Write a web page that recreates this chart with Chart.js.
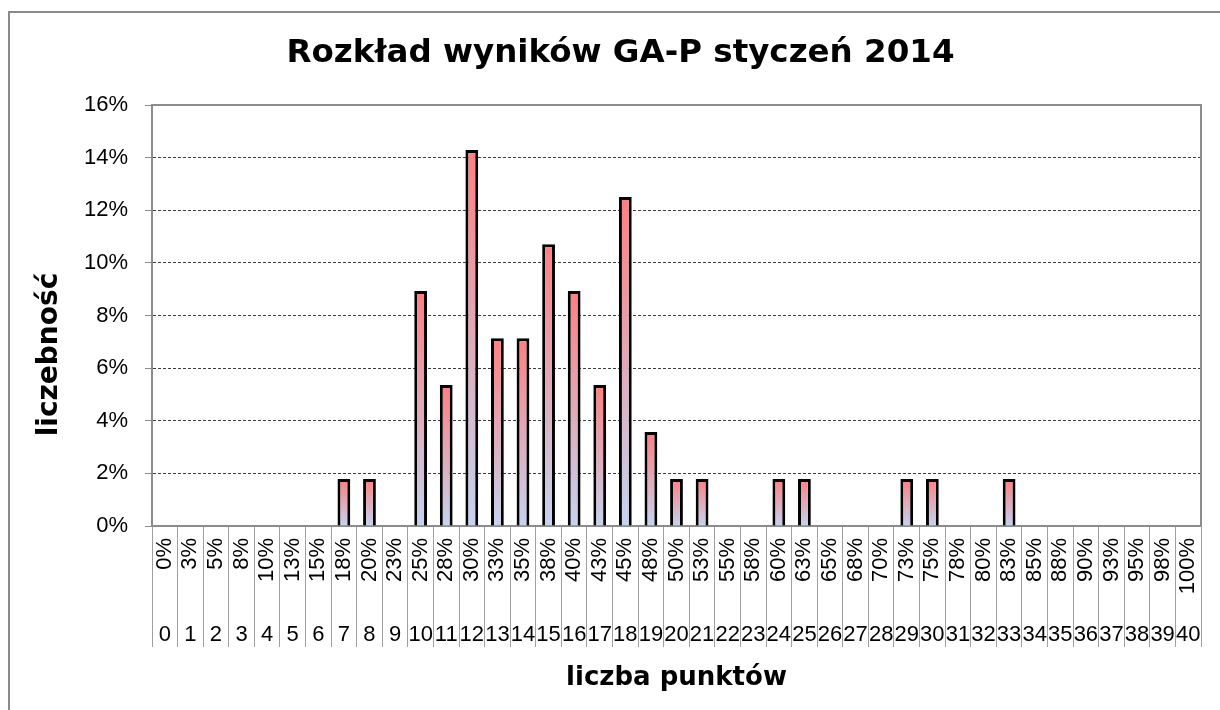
<!DOCTYPE html>
<html>
<head>
  <meta charset="UTF-8" />
  <title>Rozkład wyników GA-P styczeń 2014</title>
  <script src="https://cdn.jsdelivr.net/npm/chart.js@4.4.0/dist/chart.umd.min.js"></script>
  <style>
    html,body{margin:0;padding:0;background:#fff;}
    #wrap{position:relative;width:1220px;height:710px;overflow:hidden;}
    #frame{position:absolute;left:8px;top:11px;width:1300px;height:800px;border-left:2px solid #8a8a8a;border-top:2px solid #8a8a8a;}
    #chart{position:absolute;left:0;top:0;}
  </style>
</head>
<body>
<div id="wrap">
  <div id="frame"></div>
  <canvas id="chart" width="1220" height="710"></canvas>
</div>
<script>
// liczba punktów 0..40
const pointLabels=['0','1','2','3','4','5','6','7','8','9','10','11','12','13','14','15','16','17','18','19','20',
  '21','22','23','24','25','26','27','28','29','30','31','32','33','34','35','36','37','38','39','40'];
const pctLabels=['0%','3%','5%','8%','10%','13%','15%','18%','20%','23%','25%','28%','30%','33%','35%','38%','40%',
  '43%','45%','48%','50%','53%','55%','58%','60%','63%','65%','68%','70%','73%','75%','78%','80%','83%','85%','88%',
  '90%','93%','95%','98%','100%'];
// liczebność w %
const shares=[0,0,0,0,0,0,0,1.79,1.79,0,8.93,5.36,14.29,7.14,7.14,10.71,8.93,5.36,12.5,3.57,1.79,
  1.79,0,0,1.79,1.79,0,0,0,1.79,1.79,0,0,1.79,0,0,0,0,0,0,0];
const yTicks=[0,2,4,6,8,10,12,14,16];

function barFill(c){
  const chart=c.chart;
  if(!chart.chartArea||c.type!=='data'||!c.raw) return '#FF7F7F';
  const y=chart.scales.y;
  const top=y.getPixelForValue(c.raw), base=y.getPixelForValue(0);
  const g=chart.ctx.createLinearGradient(0,top,0,base);
  g.addColorStop(0,'#FF7F7F');
  g.addColorStop(1,'#C4D3F1');
  return g;
}

const plotFrame={
  id:'plotFrame',
  beforeDatasetsDraw(chart){
    const a=chart.chartArea, ctx=chart.ctx;
    ctx.save();
    ctx.strokeStyle='#8c8c8c';
    ctx.lineWidth=2;
    ctx.strokeRect(a.left,a.top,a.right-a.left,a.bottom-a.top);
    ctx.restore();
  }
};

const tickFont={family:'"Liberation Sans", Arial, sans-serif',size:22};
const titleFont={family:'"DejaVu Sans", Verdana, sans-serif',weight:'bold'};
// trailing spaces push the rotated axis title down, as in the original
const yTitle='liczebność'+'\u00A0'.repeat(8);

new Chart(document.getElementById('chart'),{
  type:'bar',
  data:{
    labels:pctLabels,
    datasets:[{
      data:shares,
      backgroundColor:barFill,
      borderColor:'#000',
      borderWidth:3,
      barPercentage:0.5,
      categoryPercentage:1
    }]
  },
  options:{
    responsive:false,
    animation:false,
    layout:{padding:{left:40,right:19,top:0,bottom:0}},
    plugins:{
      legend:{display:false},
      tooltip:{enabled:false},
      title:{display:true,text:'Rozkład wyników GA-P styczeń 2014',color:'#000',
        font:{...titleFont,size:32.5},padding:{top:34,bottom:32}}
    },
    scales:{
      y:{
        min:0,max:16,
        afterBuildTicks(s){s.ticks=yTicks.map(v=>({value:v}));},
        afterFit(s){s.width=112;},
        ticks:{color:'#000',font:{...tickFont,size:22},padding:17,callback:v=>v+'%'},
        grid:{color:'#3c3c3c',lineWidth:1,tickLength:7,tickColor:'#8c8c8c'},
        border:{display:true,color:'#8c8c8c',width:2,dash:[3,2]},
        title:{display:true,text:yTitle,color:'#000',font:{...titleFont,size:28},padding:{top:-7,bottom:0}}
      },
      x:{
        type:'category',
        offset:true,
        afterFit(s){s.height=70;},
        ticks:{color:'#000',font:tickFont,minRotation:90,maxRotation:90,autoSkip:false,padding:-58},
        grid:{offset:true,drawOnChartArea:false,tickLength:70,color:'#a0a0a0',tickColor:'#a0a0a0',lineWidth:1},
        border:{display:true,color:'#8c8c8c',width:2}
      },
      x2:{
        type:'category',
        position:'bottom',
        labels:pointLabels,
        offset:true,
        afterFit(s){s.height=114;},
        ticks:{color:'#000',font:tickFont,autoSkip:false,maxRotation:0,padding:-25},
        grid:{offset:true,drawOnChartArea:false,tickLength:51,color:'#a0a0a0',tickColor:'#a0a0a0',lineWidth:1},
        border:{display:false},
        title:{display:true,text:'liczba punktów',color:'#000',font:{...titleFont,size:26},padding:{top:0,bottom:16}}
      }
    }
  },
  plugins:[plotFrame]
});
</script>
</body>
</html>
